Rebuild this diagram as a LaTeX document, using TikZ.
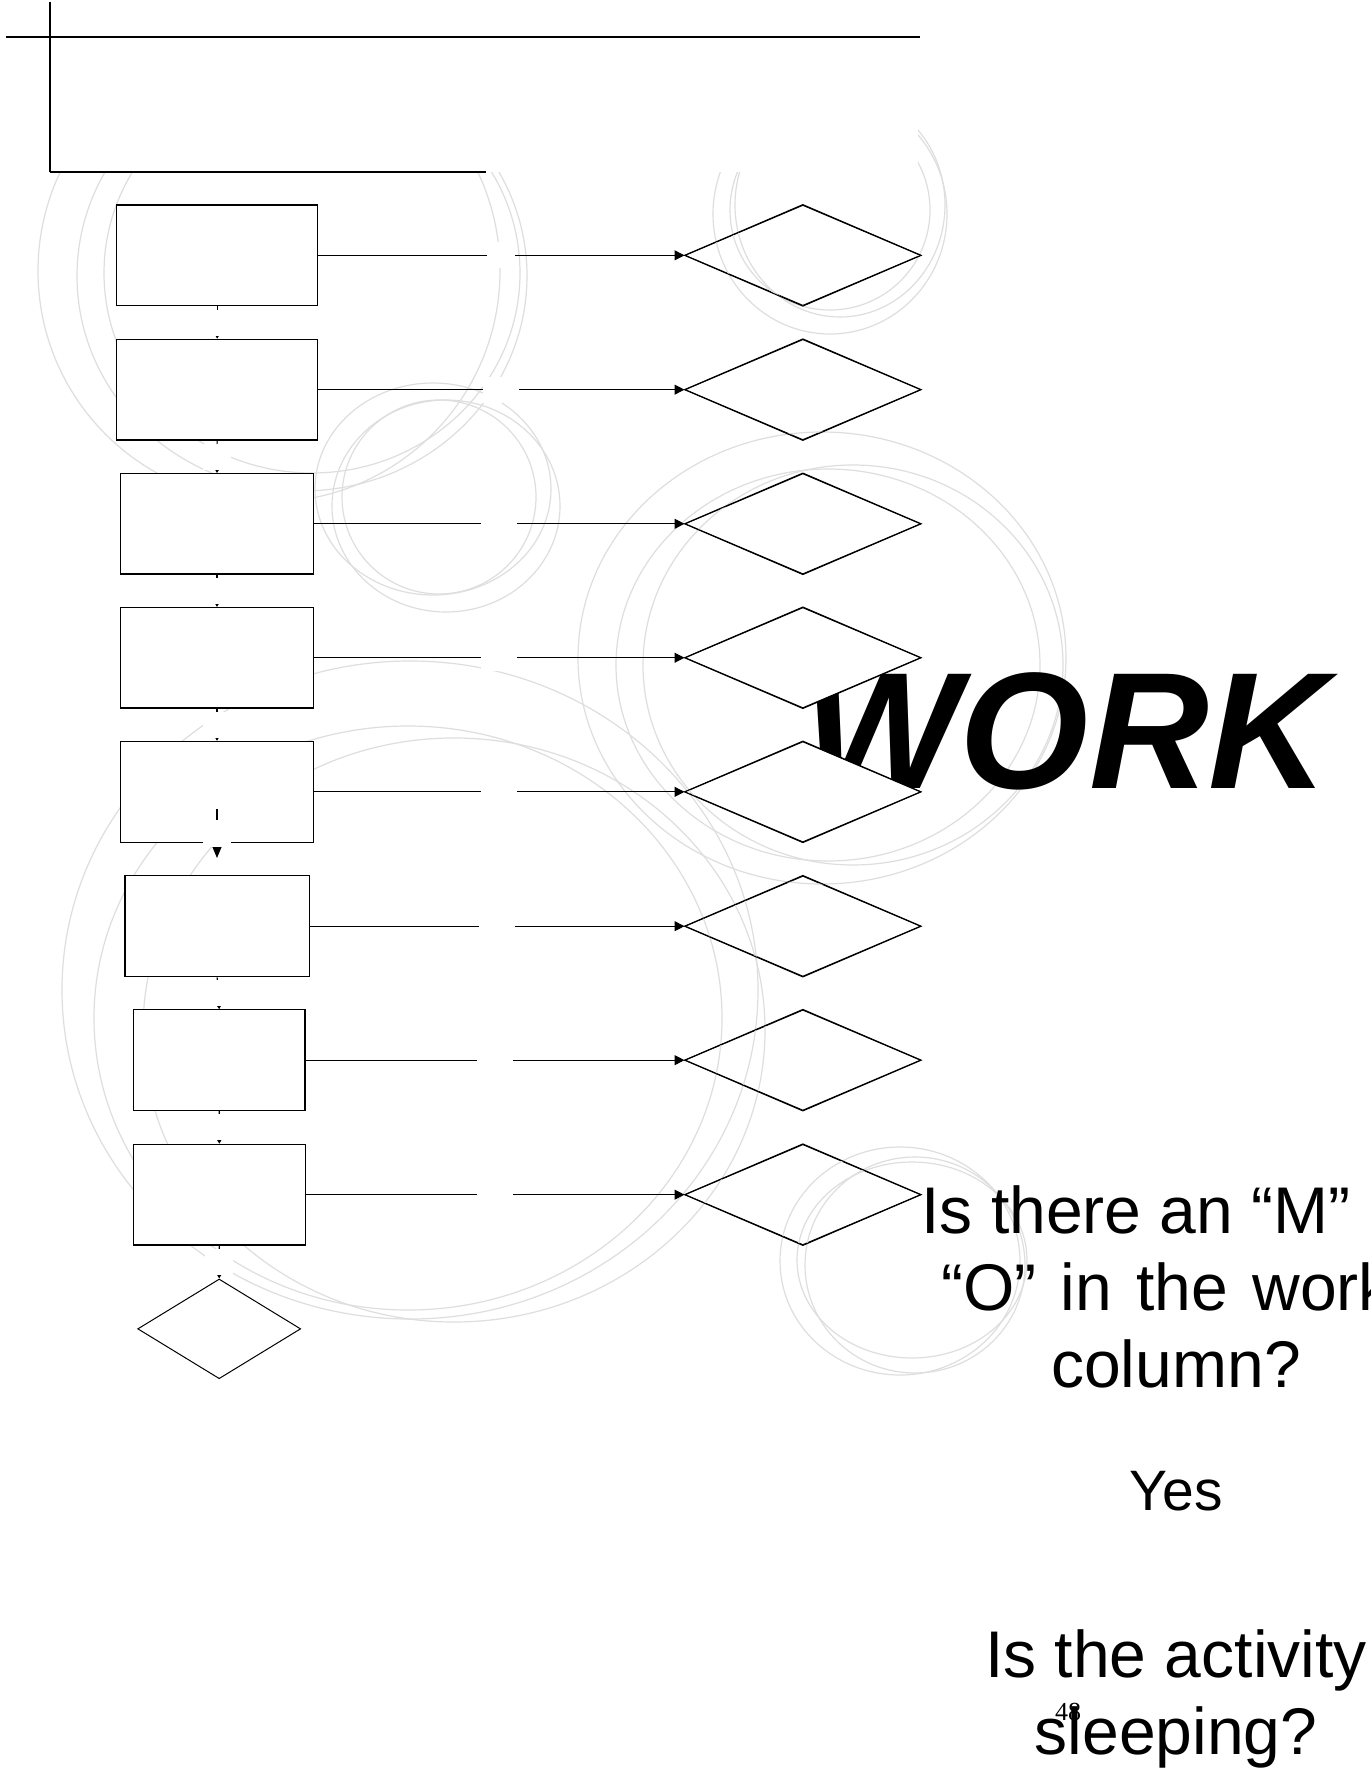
\documentclass[tikz,border=0pt]{standalone}
\usepackage{fontspec}
\setmainfont{Liberation Sans}
\newfontfamily\pgnumfont{Liberation Serif}
\usetikzlibrary{shapes.geometric,arrows.meta}
\newcommand\drawbgrings{%
  \draw[ringline] (269,271) ellipse [x radius=231, y radius=231];
  \draw[ringline] (302,276) ellipse [x radius=225, y radius=215];
  \draw[ringline] (312,273) ellipse [x radius=208, y radius=200];
  \draw[ringline] (433,489) ellipse [x radius=118, y radius=106];
  \draw[ringline] (446,506) ellipse [x radius=114, y radius=106];
  \draw[ringline] (439,497) ellipse [x radius=97, y radius=97];
  \draw[ringline] (830,214) ellipse [x radius=117, y radius=120];
  \draw[ringline] (830,210) ellipse [x radius=100, y radius=100];
  \draw[ringline] (840,205) ellipse [x radius=105, y radius=112];
  \draw[ringline] (822,658) ellipse [x radius=244, y radius=226];
  \draw[ringline] (828,665) ellipse [x radius=212, y radius=196];
  \draw[ringline] (853,665) ellipse [x radius=210, y radius=200];
  \draw[ringline] (408,1018) ellipse [x radius=314, y radius=292];
  \draw[ringline] (454,1030) ellipse [x radius=311, y radius=292];
  \draw[ringline] (410,990) ellipse [x radius=348, y radius=329];
  \draw[ringline] (900,1261) ellipse [x radius=120, y radius=114];
  \draw[ringline] (912,1260) ellipse [x radius=115, y radius=98];
  \draw[ringline] (915,1265) ellipse [x radius=110, y radius=108];
}
\begin{document}
\begin{tikzpicture}[x=0.5pt,y=-0.5pt,
  ringline/.style={draw=black!13, line width=0.6pt},
  box/.style={draw=black, fill=white, line width=0.6pt, inner sep=0pt},
  dia/.style={diamond, draw=black, fill=white, line width=0.5pt, inner sep=0pt},
  rdia/.style={dia, minimum width=117.85pt, minimum height=50.25pt},
  flowline/.style={draw=black, line width=0.55pt},
  harrow/.style={flowline, -{Triangle[length=5pt,width=5pt]}},
  varrow/.style={flowline, -{Triangle[length=1.8pt,width=2pt]}},
  bigvarrow/.style={flowline, -{Triangle[length=5.8pt,width=4.7pt]}},
  gapbox/.style={fill=white, inner sep=0pt, minimum width=14pt, minimum height=13pt},
  titlerule/.style={draw=black, line width=0.95pt},
  qtext/.style={font=\fontsize{33pt}{38.5pt}\selectfont, inner sep=0pt},
]
\clip (0,0) rectangle (1370,1771);
\fill[white] (0,0) rectangle (1370,1771);

% background rings
\drawbgrings

% title area cover and rules
\fill[white] (0,0) rectangle (918,172);
\draw[titlerule] (6,37.3) -- (920,37.3);
\draw[titlerule] (49.7,2.3) -- (49.7,172);
\draw[titlerule] (49.7,172) -- (485.6,172);

% big word
\node[font=\bfseries\itshape\fontsize{83pt}{91pt}\selectfont, anchor=base, inner sep=0pt] (work) at (1066,788) {WORK};

% process boxes
\node[box, minimum width=100.5pt, minimum height=50.35pt] (b1) at (217.2,255.35) {};
\node[box, minimum width=100.5pt, minimum height=50.35pt] (b2) at (217.2,389.65) {};
\node[box, minimum width=96.45pt, minimum height=50.2pt] (b3) at (217,523.8) {};
\node[box, minimum width=96.45pt, minimum height=50.25pt] (b4) at (217,657.75) {};
\node[box, minimum width=96.45pt, minimum height=50.45pt] (b5) at (217,791.85) {};
\node[box, minimum width=92.15pt, minimum height=50.5pt] (b6) at (217.15,926.2) {};
\node[box, minimum width=85.75pt, minimum height=50.35pt] (b7) at (219.25,1060.15) {};
\node[box, minimum width=86pt, minimum height=50.35pt] (b8) at (219.3,1194.65) {};
\node[dia, minimum width=81.5pt, minimum height=49.85pt] (d0) at (219.2,1328.85) {};

% decision diamonds
\node[rdia] (r1) at (802.85,255.35) {};
\node[rdia] (r2) at (802.85,389.65) {};
\node[rdia] (r3) at (802.85,523.8) {};
\node[rdia] (r4) at (802.85,657.75) {};
\node[rdia] (r5) at (802.85,791.85) {};
\node[rdia] (r6) at (802.85,926.2) {};
\node[rdia] (r7) at (802.85,1060.15) {};
\node[rdia] (r8) at (802.85,1194.65) {};
\foreach \i in {1,...,8}{
  \begin{scope}
    \clip (r\i.north) -- (r\i.east) -- (r\i.south) -- (r\i.west) -- cycle;
    \drawbgrings
  \end{scope}
  \draw[black, line width=0.5pt] (r\i.north) -- (r\i.east) -- (r\i.south) -- (r\i.west) -- cycle;
}

% vertical connectors
\coordinate (s5) at (217,809);
\coordinate (e5) at (217,858);
\draw[varrow] (b1.south) -- (b2.north) node[gapbox, midway] (v1) {};
\draw[varrow] (b2.south) -- (b3.north) node[gapbox, midway] (v2) {};
\draw[varrow] (b3.south) -- (b4.north) node[gapbox, midway] (v3) {};
\draw[varrow] (b4.south) -- (b5.north) node[gapbox, midway] (v4) {};
\draw[bigvarrow] (s5) -- (e5) node[gapbox, midway, minimum height=13.5pt] (v5) {};
\draw[varrow] (b6.south) -- (b7.north) node[gapbox, midway] (v6) {};
\draw[varrow] (b7.south) -- (b8.north) node[gapbox, midway] (v7) {};
\draw[varrow] (b8.south) -- (d0.north) node[gapbox, midway] (v8) {};

% horizontal connectors
\draw[harrow] (b1.east) -- (r1.west) node[gapbox, midway] (h1) {};
\draw[harrow] (b2.east) -- (r2.west) node[gapbox, midway, minimum width=18pt] (h2) {};
\draw[harrow] (b3.east) -- (r3.west) node[gapbox, midway, minimum width=18pt] (h3) {};
\draw[harrow] (b4.east) -- (r4.west) node[gapbox, midway, minimum width=18pt] (h4) {};
\draw[harrow] (b5.east) -- (r5.west) node[gapbox, midway, minimum width=18pt] (h5) {};
\draw[harrow] (b6.east) -- (r6.west) node[gapbox, midway, minimum width=18pt] (h6) {};
\draw[harrow] (b7.east) -- (r7.west) node[gapbox, midway, minimum width=18pt] (h7) {};
\draw[harrow] (b8.east) -- (r8.west) node[gapbox, midway, minimum width=18pt] (h8) {};

% texts
\node[qtext, anchor=base west] (q1) at (921,1233) {Is there an “M”};
\node[qtext, anchor=base west] (q2) at (941,1310) {“O”\hspace{0.09em} in\hspace{0.09em} the\hspace{0.09em} work};
\node[qtext, anchor=base] (q3) at (1176,1387) {column?};
\node[font=\fontsize{28.5pt}{33pt}\selectfont, inner sep=0pt, anchor=base] (yes) at (1176,1510) {Yes};
\node[qtext, anchor=base] (a1) at (1176,1677) {Is the activity};
\node[qtext, anchor=base] (a2) at (1176,1754) {sleeping?};
\node[font=\pgnumfont\fontsize{13pt}{15pt}\selectfont, inner sep=0pt, anchor=base] (pg) at (1068,1720) {48};
\end{tikzpicture}
\end{document}
